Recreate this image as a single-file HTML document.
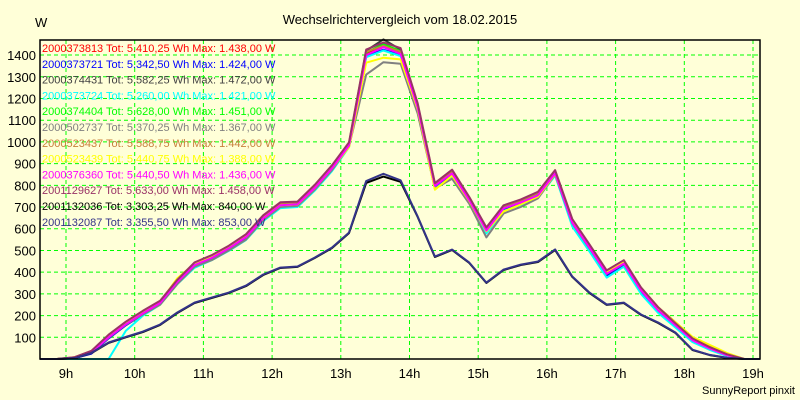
<!DOCTYPE html>
<html><head><meta charset="utf-8"><style>
body{margin:0;background:#ffffd8;}
svg{display:block;font-family:"Liberation Sans",sans-serif;}
</style></head><body>
<svg id="chart" width="800" height="400">
<rect width="800" height="400" fill="#ffffd8"/>
<text x="400" y="24" text-anchor="middle" font-size="13" fill="#000">Wechselrichtervergleich vom 18.02.2015</text>
<text x="35" y="27" font-size="13" fill="#000">W</text>
<text x="795" y="394" text-anchor="end" font-size="11" fill="#000">SunnyReport pinxit</text>
<g id="grid"></g><g id="series"></g><g id="legend"></g><g id="axes"></g>
</svg>
<script>
const yTicks=[100,200,300,400,500,600,700,800,900,1000,1100,1200,1300,1400];
const xTickHours=[9,10,11,12,13,14,15,16,17,18,19];
const xTickLabels=["9h","10h","11h","12h","13h","14h","15h","16h","17h","18h","19h"];
const startHour=8.62, stepHour=0.25;
const sRed=[0,0,5,30,100,160,210,258,355,433,465,510,562,650,710,715,790,880,985,1405,1438,1410,1160,800,857,733,594,696,723,756,857,631,516,396,442,318,226,157,88,50,18,0,0];
const sBlue=[0,0,3,25,95,155,205,252,350,428,460,505,555,645,705,710,785,875,980,1395,1424,1400,1150,790,850,725,585,690,718,750,850,620,505,385,432,310,220,150,80,45,15,0,0];
const sDark=[0,0,6,32,105,165,215,262,360,438,470,515,567,655,715,720,795,885,992,1420,1472,1425,1170,805,865,740,600,702,728,762,862,636,520,400,447,322,230,160,92,52,20,0,0];
const sCyan=[0,0,0,0,0,130,200,250,345,420,455,498,548,635,695,700,775,865,975,1390,1421,1395,1145,785,840,718,578,682,710,742,845,610,495,375,425,300,212,145,78,42,14,0,0];
const sGreen=[0,0,5,30,102,163,213,260,358,436,468,513,565,653,713,718,793,883,988,1412,1451,1418,1165,802,862,737,598,700,725,758,860,634,518,398,445,320,228,158,90,52,20,0,0];
const sGray=[0,0,4,28,98,158,205,250,345,425,455,500,550,640,700,705,780,870,978,1310,1367,1360,1130,785,830,715,560,670,700,740,850,625,510,392,438,315,225,155,90,52,22,0,0];
const sOrange=[0,0,8,36,110,170,218,265,362,440,472,518,570,658,718,722,798,888,990,1415,1442,1415,1168,805,865,742,602,705,730,765,865,640,525,405,450,328,238,170,100,62,25,0,0];
const sYellow=[0,0,7,34,108,168,216,263,372,440,468,512,563,648,708,712,788,878,975,1365,1388,1380,1150,780,845,728,588,680,712,748,852,636,522,402,448,325,235,170,102,65,28,0,0];
const sMagenta=[0,0,5,30,100,160,210,258,355,433,465,510,562,648,708,713,788,878,983,1400,1436,1405,1158,798,855,731,592,694,721,754,855,628,513,393,440,316,224,155,86,48,17,0,0];
const sPurple=[0,0,8,38,112,172,222,268,365,445,478,522,575,662,722,725,802,892,998,1425,1458,1432,1178,810,872,746,606,708,735,770,870,645,528,408,455,330,238,165,95,55,22,0,0];
const sBlack=[0,0,3,27,74,100,124,157,212,258,281,304,336,387,419,424,465,511,580,811,840,816,654,470,502,442,350,410,433,447,502,378,304,249,258,203,166,120,41,18,5,0,0];
const sNavy=[0,0,3,28,76,102,126,159,214,260,283,306,338,389,421,426,467,513,582,820,853,823,656,472,504,444,352,412,435,449,505,380,306,251,260,205,168,122,43,19,6,0,0];
const seriesNames=["2000373813","2000373721","2000374431","2000373724","2000374404","2000502737","2000523437","2000523439","2000376360","2001129627","2001132036","2001132087"];
const seriesTot=["5.410,25","5.342,50","5.582,25","5.260,00","5.628,00","5.370,25","5.588,75","5.440,75","5.440,50","5.633,00","3.303,25","3.355,50"];
const seriesMax=["1.438,00","1.424,00","1.472,00","1.421,00","1.451,00","1.367,00","1.442,00","1.388,00","1.436,00","1.458,00","840,00","853,00"];
const seriesData=[sRed,sBlue,sDark,sCyan,sGreen,sGray,sOrange,sYellow,sMagenta,sPurple,sBlack,sNavy];
const colors=["#ff0000","#0000ff","#404040","#00ffff","#00ff00","#808080","#c8803c","#ffff00","#ff00ff","#993366","#000000","#333388"];
const NS="http://www.w3.org/2000/svg";
const L=40,R=760,T=40,B=359;
function xs(h){return 66+(h-9)*68.7;}
function ys(v){return B-v*0.2171;}
const grid=document.getElementById('grid'),axes=document.getElementById('axes'),ser=document.getElementById('series'),leg=document.getElementById('legend');
function mk(tag,attrs,parent){const e=document.createElementNS(NS,tag);for(const k in attrs)e.setAttribute(k,attrs[k]);parent.appendChild(e);return e;}
yTicks.forEach(v=>{
 const y=ys(v);
 const g=mk('line',{x1:L,x2:R,y1:y,y2:y,stroke:'#00ff00','stroke-width':1,'stroke-dasharray':'4,3'},grid);
 
 
 const t=mk('text',{x:36,y:y+5,'text-anchor':'end','font-size':13,fill:'#000'},axes);
 t.textContent=v;
 
 
});
xTickHours.forEach((h,i)=>{
 const x=xs(h);
 const g=mk('line',{x1:x,x2:x,y1:T,y2:B,stroke:'#00ff00','stroke-width':1,'stroke-dasharray':'4,3'},grid);
 
 
 const t=mk('text',{x:x,y:378,'text-anchor':'middle','font-size':13,fill:'#000'},axes);
 t.textContent=xTickLabels[i];
 
 
});
const box=mk('path',{d:`M${L},${T}H${R}V${B}H${L}Z`,fill:'none',stroke:'#000','stroke-width':1.5},axes);


seriesData.forEach((arr,i)=>{
 const pts=arr.map((v,k)=>{let x=xs(startHour+k*stepHour);x=Math.min(Math.max(x,L),R);return x.toFixed(1)+','+ys(v).toFixed(1);}).join(' ');
 const p=mk('polyline',{points:pts,fill:'none',stroke:colors[i],'stroke-width':2,'stroke-linejoin':'round'},ser);
 
 
});
seriesNames.forEach((n,i)=>{
 const t=mk('text',{x:42,y:52+i*15.8,'font-size':11,fill:colors[i]},leg);
 t.textContent=n+" Tot: "+seriesTot[i]+" Wh Max: "+seriesMax[i]+" W";
 
 
});
</script>
</body></html>
